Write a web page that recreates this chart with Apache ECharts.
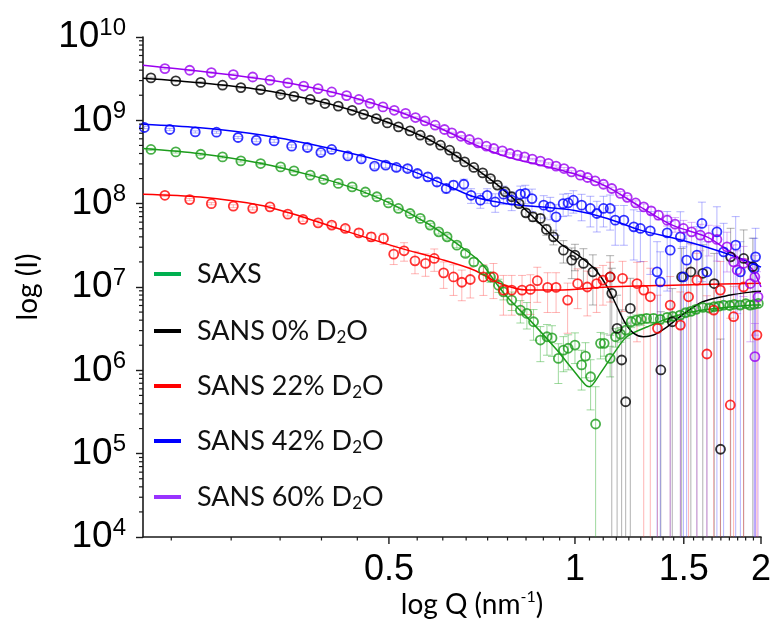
<!DOCTYPE html>
<html>
<head>
<meta charset="utf-8">
<script src="https://cdn.jsdelivr.net/npm/echarts@6/dist/echarts.min.js"></script>
<style>
html, body { margin: 0; padding: 0; background: #fff; }
#chart { width: 772px; height: 637px; }
</style>
</head>
<body>
<div id="chart"></div>
<script>
// Scattering curves, log I vs log Q.
// Measured points: [Q (nm^-1), I, relative error]; fits: [Q, I].

const saxsPoints = [
  [0.206,4.47e8,0.03],[0.226,4.18e8,0.03],[0.248,3.92e8,0.03],[0.269,3.64e8,0.03],[0.288,3.26e8,0.03],
  [0.310,3.03e8,0.03],[0.334,2.76e8,0.03],[0.351,2.47e8,0.03],[0.373,2.20e8,0.03],[0.392,1.95e8,0.03],
  [0.414,1.75e8,0.03],[0.436,1.59e8,0.03],[0.458,1.38e8,0.04],[0.478,1.21e8,0.04],[0.499,1.02e8,0.04],
  [0.518,8.76e7,0.04],[0.541,7.62e7,0.05],[0.562,6.65e7,0.05],[0.583,5.53e7,0.05],[0.602,4.59e7,0.06],
  [0.621,4.00e7,0.06],[0.644,3.18e7,0.07],[0.665,2.53e7,0.08],[0.686,2.00e7,0.1],[0.711,1.60e7,0.12],
  [0.730,1.32e7,0.14],[0.752,1.05e7,0.18],[0.766,8.75e6,0.2],[0.790,6.96e6,0.25],[0.816,5.28e6,0.3],
  [0.836,4.82e6,0.35],[0.857,3.83e6,0.4],[0.879,2.31e6,0.45],[0.901,2.53e6,0.4],[0.918,2.45e6,0.4],
  [0.940,1.39e6,0.5],[0.958,1.75e6,0.45],[0.975,1.84e6,0.45],[1.0,2.01e6,0.4],[1.025,1.16e6,0.5],
  [1.04,1.48e6,0.45],[1.06,8.38e5,0.6],[1.08,2.27e5,1.8],[1.10,2.11e6,0.35],[1.115,2.11e6,0.3],
  [1.14,1.39e6,0.4],[1.163,2.53e6,0.25],[1.185,2.72e6,0.2],[1.209,3.04e6,0.2],[1.233,3.83e6,0.15],
  [1.257,4.01e6,0.15],[1.28,4.09e6,0.15],[1.306,4.2e6,0.12],[1.34,4.2e6,0.12],[1.374,4.09e6,0.12],
  [1.41,4.32e6,0.12],[1.44,4.43e6,0.1],[1.48,4.6e6,0.1],[1.51,4.91e6,0.1],[1.54,5.1e6,0.1],
  [1.57,5.39e6,0.1],[1.61,5.7e6,0.1],[1.65,5.6e6,0.1],[1.68,5.8e6,0.1],[1.71,5.9e6,0.1],
  [1.74,6.07e6,0.1],[1.78,6.0e6,0.1],[1.81,6.2e6,0.1],[1.85,6.07e6,0.1],[1.89,6.3e6,0.1],
  [1.92,6.07e6,0.1],[1.95,6.2e6,0.1],[1.98,6.36e6,0.1]
];
const saxsFit = [
  [0.2,4.6e8],[0.2476,3.98e8],[0.3096,3.06e8],[0.373,2.2e8],[0.433,1.58e8],[0.5026,1.01e8],
  [0.5833,5.53e7],[0.6523,3.09e7],[0.7027,1.99e7],[0.752,1.02e7],[0.776,7.63e6],[0.855,3.66e6],
  [0.935,1.75e6],[0.994,1.0e6],[1.04,6.67e5],[1.055,6.36e5],[1.099,9.2e5],[1.156,1.6e6],
  [1.213,2.53e6],[1.31,3.33e6],[1.44,4.4e6],[1.61,5.28e6],[1.94,6.07e6],[2.0,6.1e6]
];

const sans0Points = [
  [0.206,3.23e9,0.02],[0.226,2.97e9,0.02],[0.248,2.85e9,0.02],[0.269,2.64e9,0.02],[0.288,2.47e9,0.02],
  [0.310,2.34e9,0.02],[0.334,2.04e9,0.02],[0.351,1.94e9,0.02],[0.373,1.78e9,0.02],[0.394,1.59e9,0.02],
  [0.414,1.48e9,0.02],[0.436,1.32e9,0.02],[0.455,1.18e9,0.02],[0.477,1.05e9,0.02],[0.497,9.31e8,0.02],
  [0.518,8.34e8,0.02],[0.541,7.46e8,0.02],[0.562,6.63e8,0.03],[0.583,5.77e8,0.03],[0.606,5.03e8,0.03],
  [0.627,4.38e8,0.03],[0.643,3.64e8,0.03],[0.663,3.17e8,0.03],[0.686,2.72e8,0.04],[0.709,2.34e8,0.04],
  [0.730,2.00e8,0.05],[0.749,1.67e8,0.05],[0.771,1.39e8,0.06],[0.790,1.21e8,0.07],[0.812,1.00e8,0.08],
  [0.833,7.76e7,0.1],[0.855,6.95e7,0.12],[0.879,6.65e7,0.12],[0.899,4.91e7,0.15],[0.923,4.00e7,0.2],
  [0.958,2.77e7,0.3],[0.988,2.10e7,0.4],[1.0,2.41e7,0.35],[1.032,1.92e7,0.5],[1.069,1.52e7,0.6],
  [1.14,1.32e7,0.8],[1.147,8.4e6,1.0],[1.17,3.19e6,1.5],[1.19,1.33e6,3],[1.208,4.2e5,8],
  [1.229,5.53e6,1.3],[1.377,1.01e6,4],[1.437,3.83e6,1.5],[1.488,1.32e7,1.2],[1.54,1.52e7,1.2],
  [1.61,1.46e7,1.2],[1.68,1.10e7,1.3],[1.72,1.13e5,20],[1.786,2.30e7,1.2],[1.875,2.20e7,1.2],
  [1.94,1.75e7,1.2]
];
const sans0Fit = [
  [0.2,3.2e9],[0.2476,2.82e9],[0.3096,2.33e9],[0.373,1.79e9],[0.433,1.34e9],[0.5026,9.23e8],
  [0.5833,5.77e8],[0.677,2.9e8],[0.757,1.58e8],[0.8467,7.48e7],[0.9467,3.33e7],[1.02,2.3e7],
  [1.08,1.6e7],[1.128,1.0e7],[1.17,5.79e6],[1.207,3.66e6],[1.245,2.78e6],[1.291,2.53e6],
  [1.34,2.65e6],[1.41,3.33e6],[1.49,4.6e6],[1.61,6.65e6],[1.784,8.0e6],[1.94,8.75e6],[2.0,8.9e6]
];

const sans22Points = [
  [0.217,1.26e8,0.03],[0.238,1.12e8,0.03],[0.258,1.00e8,0.03],[0.280,9.33e7,0.04],[0.301,8.76e7,0.04],
  [0.321,9.16e7,0.04],[0.343,7.48e7,0.05],[0.363,6.47e7,0.05],[0.384,5.89e7,0.06],[0.404,5.53e7,0.07],
  [0.425,5.04e7,0.08],[0.447,4.47e7,0.1],[0.468,4.00e7,0.12],[0.490,3.83e7,0.15],[0.509,2.48e7,0.25],
  [0.529,2.72e7,0.25],[0.551,2.06e7,0.3],[0.573,1.92e7,0.3],[0.592,2.20e7,0.3],[0.613,1.48e7,0.35],
  [0.636,1.32e7,0.4],[0.656,1.14e7,0.4],[0.677,1.23e7,0.4],[0.711,1.32e7,0.4],[0.738,1.32e7,0.45],
  [0.766,9.18e6,0.5],[0.790,9.18e6,0.5],[0.821,9.18e6,0.5],[0.847,9.35e6,0.5],[0.869,1.19e7,0.45],
  [0.903,9.89e6,0.5],[0.932,9.89e6,0.5],[0.973,6.96e6,0.6],[1.01,1.10e7,0.5],[1.047,1.0e7,0.55],
  [1.084,1.10e7,0.55],[1.11,1.21e7,0.5],[1.14,1.32e7,0.5],[1.194,1.27e7,0.6],[1.26,1.10e7,0.8],
  [1.292,9.18e6,1.2],[1.324,7.63e6,1.2],[1.36,3.19e6,1.5],[1.426,6.07e6,1.2],[1.481,3.49e6,1.5],
  [1.527,7.63e6,1.2],[1.575,1.21e7,1.1],[1.635,1.57e6,4],[1.677,5.28e6,1.3],[1.719,9.18e6,1.2],
  [1.784,3.84e5,10],[1.806,4.40e6,1.3],[1.874,1.0e7,1.2],[1.97,2.65e6,1.5]
];
const sans22Fit = [
  [0.2,1.3e8],[0.2476,1.2e8],[0.3096,9.59e7],[0.3594,7.08e7],[0.421,4.81e7],[0.5216,2.93e7],
  [0.6055,2.16e7],[0.686,1.6e7],[0.757,1.1e7],[0.836,9.18e6],[0.935,9.18e6],[1.128,1.0e7],
  [1.437,1.05e7],[2.0,1.11e7]
];

const sans42Points = [
  [0.201,8.2e8,0.03],[0.221,7.76e8,0.03],[0.243,7.26e8,0.03],[0.263,7.2e8,0.03],[0.285,6.22e8,0.03],
  [0.305,5.77e8,0.04],[0.326,5.66e8,0.04],[0.348,4.89e8,0.04],[0.369,4.72e8,0.05],[0.388,4.11e8,0.05],
  [0.404,4.47e8,0.05],[0.429,3.74e8,0.06],[0.451,3.44e8,0.06],[0.474,2.82e8,0.07],[0.494,2.90e8,0.07],
  [0.514,2.72e8,0.08],[0.536,2.64e8,0.08],[0.556,2.30e8,0.09],[0.578,2.10e8,0.1],[0.598,1.82e8,0.1],
  [0.619,1.52e8,0.12],[0.636,1.67e8,0.12],[0.661,1.71e8,0.15],[0.679,1.26e8,0.2],[0.703,1.10e8,0.2],
  [0.721,1.26e8,0.2],[0.743,1.05e8,0.25],[0.766,1.30e8,0.25],[0.790,1.10e8,0.25],[0.816,1.30e8,0.25],
  [0.831,1.33e8,0.25],[0.852,1.15e8,0.3],[0.890,9.59e7,0.3],[0.912,9.16e7,0.3],[0.932,6.95e7,0.4],
  [0.957,1.0e8,0.3],[0.975,1.02e8,0.3],[0.994,1.10e8,0.3],[1.025,9.59e7,0.35],[1.059,8.76e7,0.4],
  [1.085,7.62e7,0.4],[1.112,8.76e7,0.4],[1.14,8.76e7,0.45],[1.162,6.34e7,0.5],[1.2,6.34e7,0.5],
  [1.245,5.27e7,0.6],[1.276,5.04e7,0.6],[1.324,4.72e7,0.7],[1.358,1.52e7,1.3],[1.374,1.15e7,1.3],
  [1.41,4.47e7,0.8],[1.426,2.77e7,1.2],[1.481,4.0e7,1.0],[1.498,1.32e7,1.3],[1.516,2.10e7,1.2],
  [1.575,2.41e7,1.2],[1.605,5.79e7,0.8],[1.635,1.52e7,1.3],[1.697,4.59e7,1.0],[1.74,2.64e7,1.2],
  [1.82,3.18e7,1.2],[1.852,1.52e7,1.3],[1.95,1.67e7,1.3],[1.96,2.30e7,1.2]
];
const sans42Fit = [
  [0.2,8.98e8],[0.245,8.2e8],[0.313,6.63e8],[0.402,4.59e8],[0.514,2.9e8],[0.6284,1.59e8],
  [0.686,1.21e8],[0.776,1.0e8],[0.879,9.16e7],[0.994,8.36e7],[1.128,6.65e7],[1.276,4.81e7],
  [1.437,3.9e7],[1.635,3.0e7],[1.852,2.2e7],[2.0,1.73e7]
];

const sans60Points = [
  [0.217,4.18e9,0.02],[0.238,3.99e9,0.02],[0.258,3.74e9,0.02],[0.280,3.54e9,0.02],[0.301,3.31e9,0.02],
  [0.321,3.03e9,0.02],[0.343,2.81e9,0.02],[0.364,2.58e9,0.02],[0.384,2.40e9,0.02],[0.404,2.19e9,0.02],
  [0.427,1.98e9,0.02],[0.447,1.78e9,0.02],[0.466,1.60e9,0.02],[0.489,1.45e9,0.02],[0.510,1.32e9,0.02],
  [0.532,1.21e9,0.02],[0.552,1.08e9,0.02],[0.572,9.85e8,0.02],[0.594,8.74e8,0.02],[0.615,7.76e8,0.02],
  [0.632,7.06e8,0.02],[0.654,6.44e8,0.02],[0.675,5.89e8,0.02],[0.697,5.36e8,0.02],[0.719,4.89e8,0.02],
  [0.739,4.59e8,0.02],[0.763,4.30e8,0.02],[0.785,4.0e8,0.02],[0.807,3.82e8,0.02],[0.829,3.64e8,0.02],
  [0.853,3.42e8,0.02],[0.879,3.24e8,0.02],[0.906,3.04e8,0.02],[0.932,2.82e8,0.03],[0.96,2.64e8,0.03],
  [0.987,2.41e8,0.03],[1.02,2.20e8,0.03],[1.048,2.06e8,0.03],[1.078,1.88e8,0.03],[1.112,1.71e8,0.04],
  [1.147,1.52e8,0.04],[1.184,1.33e8,0.05],[1.215,1.19e8,0.05],[1.254,1.02e8,0.06],[1.292,9.16e7,0.08],
  [1.328,8.2e7,0.1],[1.365,7.28e7,0.12],[1.41,6.34e7,0.15],[1.452,5.68e7,0.2],[1.498,5.04e7,0.25],
  [1.544,4.59e7,0.3],[1.595,4.19e7,0.35],[1.646,3.93e7,0.4],[1.697,3.72e7,0.45],[1.762,3.03e7,0.5],
  [1.806,2.0e7,0.6],[1.83,1.60e7,0.7],[1.874,1.92e7,0.6],[1.922,1.10e7,0.8],[1.955,1.32e7,0.8],
  [1.978,7.63e6,1.0],[1.955,1.46e6,1.5]
];
const sans60Fit = [
  [0.2,4.58e9],[0.2476,3.88e9],[0.3096,3.15e9],[0.3594,2.64e9],[0.433,1.92e9],[0.5216,1.25e9],
  [0.615,7.61e8],[0.686,5.17e8],[0.776,3.64e8],[0.879,2.9e8],[0.994,2.3e8],[1.128,1.59e8],
  [1.276,9.16e7],[1.437,5.53e7],[1.635,4.0e7],[1.735,3.03e7],[1.88,1.99e7],[1.94,1.6e7],[2.0,1.0e7]
];

const seriesNames = ['SAXS', 'SANS 0% D2O', 'SANS 22% D2O', 'SANS 42% D2O', 'SANS 60% D2O'];
const pointSets = [saxsPoints, sans0Points, sans22Points, sans42Points, sans60Points];
const fitSets = [saxsFit, sans0Fit, sans22Fit, sans42Fit, sans60Fit];

const xTickValues = [0.5, 1, 1.5, 2];
const xTickLabels = ['0.5', '1', '1.5', '2'];

const X_MIN = 0.2, X_MAX = 2, Y_MIN = 1e4, Y_MAX = 1e10;

const lineColors = ['#1c9c1c', '#000000', '#ff0000', '#0000ff', '#9a00f0'];
const legendColors = ['#00b050', '#000000', '#ff0000', '#0000ff', '#9933ff'];
const barColors = ['rgba(40,170,40,0.45)', 'rgba(70,70,70,0.42)', 'rgba(255,60,60,0.38)',
                   'rgba(60,60,255,0.38)', 'rgba(160,60,240,0.4)'];
const legendCenters = [274, 331, 386, 441, 497];

const AXIS_COLOR = '#1a1a1a';
const TICK_FONT = '"Liberation Sans", Arial, sans-serif';
const TITLE_FONT = 'Lato, "Open Sans", sans-serif';

// Minor ticks on the x axis: nine subdivisions per 0.5 step
const xMinorTicks = [];
for (let k = 1; k < 36; k++) {
  const v = k * 0.5 / 9;
  if (k % 9 !== 0 && v > X_MIN && v < X_MAX) xMinorTicks.push(v);
}
// Minor ticks on the y axis: 2..9 within each decade
const yMinorTicks = [];
for (let d = 4; d < 10; d++) {
  for (let m = 2; m <= 9; m++) yMinorTicks.push(m * Math.pow(10, d));
}

function errorBarRenderer(color) {
  return function (params, api) {
    const q = api.value(0), v = api.value(1), rel = api.value(2);
    const top = api.coord([q, v * (1 + rel)]);
    const bot = api.coord([q, rel >= 1 ? Y_MIN : v * (1 - rel)]);
    const w = 4;
    const children = [
      { type: 'line', shape: { x1: top[0], y1: top[1], x2: bot[0], y2: bot[1] }, style: { stroke: color, lineWidth: 1 } },
      { type: 'line', shape: { x1: top[0] - w, y1: top[1], x2: top[0] + w, y2: top[1] }, style: { stroke: color, lineWidth: 1 } }
    ];
    if (rel < 1) {
      children.push({ type: 'line', shape: { x1: bot[0] - w, y1: bot[1], x2: bot[0] + w, y2: bot[1] }, style: { stroke: color, lineWidth: 1 } });
    }
    return { type: 'group', children: children };
  };
}

const series = [];
pointSets.forEach(function (pts, i) {
  series.push({
    name: seriesNames[i] + ' error',
    type: 'custom',
    renderItem: errorBarRenderer(barColors[i]),
    data: pts,
    encode: { x: 0, y: 1 },
    clip: true,
    silent: true,
    z: 1
  });
});
fitSets.forEach(function (fit, i) {
  series.push({
    name: seriesNames[i],
    type: 'line',
    data: fit,
    showSymbol: false,
    smooth: 0.3,
    lineStyle: { color: lineColors[i], width: 1.5 },
    itemStyle: { color: lineColors[i] },
    silent: true,
    z: 2
  });
});
pointSets.forEach(function (pts, i) {
  series.push({
    name: seriesNames[i] + ' data',
    type: 'scatter',
    data: pts,
    encode: { x: 0, y: 1 },
    symbol: 'circle',
    symbolSize: 9,
    itemStyle: { color: 'rgba(255,255,255,0)', borderColor: lineColors[i], borderWidth: 1.8 },
    silent: true,
    z: 3
  });
});

// x axis ticks and labels at 0.5, 1, 1.5, 2
series.push({
  type: 'custom',
  data: xTickValues.map(function (v, i) { return [v, Y_MIN, i]; }),
  encode: { x: 0, y: 1 },
  clip: false,
  silent: true,
  z: 5,
  renderItem: function (params, api) {
    const p = api.coord([api.value(0), Y_MIN]);
    return {
      type: 'group',
      children: [
        { type: 'line', shape: { x1: p[0], y1: p[1], x2: p[0], y2: p[1] + 7 }, style: { stroke: AXIS_COLOR, lineWidth: 1.4 } },
        { type: 'text', x: p[0], y: p[1] + 15,
          style: { text: xTickLabels[api.value(2)], fill: '#000', fontSize: 36, fontFamily: TICK_FONT, align: 'center', verticalAlign: 'top' } }
      ]
    };
  }
});
series.push({
  type: 'custom',
  data: xMinorTicks.map(function (v) { return [v, Y_MIN]; }),
  encode: { x: 0, y: 1 },
  clip: false,
  silent: true,
  z: 5,
  renderItem: function (params, api) {
    const p = api.coord([api.value(0), Y_MIN]);
    return { type: 'line', shape: { x1: p[0], y1: p[1], x2: p[0], y2: p[1] + 3.5 }, style: { stroke: AXIS_COLOR, lineWidth: 1.2 } };
  }
});
series.push({
  type: 'custom',
  data: yMinorTicks.map(function (v) { return [X_MIN, v]; }),
  encode: { x: 0, y: 1 },
  clip: false,
  silent: true,
  z: 5,
  renderItem: function (params, api) {
    const p = api.coord([X_MIN, api.value(1)]);
    return { type: 'line', shape: { x1: p[0] - 4, y1: p[1], x2: p[0], y2: p[1] }, style: { stroke: AXIS_COLOR, lineWidth: 1.2 } };
  }
});

function legendText(name) {
  return name.replace('D2O', 'D{sub|2}O');
}

const legends = seriesNames.map(function (name, i) {
  return {
    data: [{ name: name, icon: 'rect', itemStyle: { color: legendColors[i] } }],
    left: 154,
    top: legendCenters[i] - 15,
    padding: 0,
    itemWidth: 27,
    itemHeight: 4,
    selectedMode: false,
    formatter: legendText,
    textStyle: {
      fontFamily: TITLE_FONT, fontSize: 27, color: '#111', lineHeight: 30,
      padding: [0, 0, 0, 11],
      rich: { sub: { fontFamily: TITLE_FONT, fontSize: 17, color: '#111', lineHeight: 15, verticalAlign: 'bottom' } }
    }
  };
});

const chart = echarts.init(document.getElementById('chart'), null, { renderer: 'canvas' });
chart.setOption({
  animation: false,
  backgroundColor: '#ffffff',
  grid: { left: 143, right: 11, top: 37, bottom: 100, containLabel: false },
  legend: legends,
  xAxis: {
    type: 'log',
    logBase: 10,
    min: X_MIN,
    max: X_MAX,
    name: 'log Q (nm{sup|-1})',
    nameLocation: 'middle',
    nameGap: 52,
    nameTextStyle: {
      fontFamily: TITLE_FONT, fontSize: 28, color: '#000', lineHeight: 32,
      padding: [0, 0, 0, 40],
      rich: { sup: { fontFamily: TITLE_FONT, fontSize: 16, color: '#000', lineHeight: 14, verticalAlign: 'top' } }
    },
    axisLine: { show: true, lineStyle: { color: AXIS_COLOR, width: 1.6 } },
    axisTick: { show: false },
    axisLabel: { show: false },
    splitLine: { show: false }
  },
  yAxis: {
    type: 'log',
    logBase: 10,
    min: Y_MIN,
    max: Y_MAX,
    splitNumber: 6,
    name: 'log (I)',
    nameLocation: 'middle',
    nameGap: 101,
    nameRotate: 90,
    nameTextStyle: { fontFamily: TITLE_FONT, fontSize: 28, color: '#000' },
    axisLine: { show: true, lineStyle: { color: AXIS_COLOR, width: 1.6 } },
    axisTick: { show: true, inside: false, length: 7, lineStyle: { color: AXIS_COLOR, width: 1.4 } },
    minorTick: { show: false },
    splitLine: { show: false },
    axisLabel: {
      margin: 17,
      formatter: function (v) { return '{b|10}{s|' + Math.round(Math.log10(v)) + '}'; },
      rich: {
        b: { fontFamily: TICK_FONT, fontSize: 37, color: '#000', lineHeight: 42 },
        s: { fontFamily: TICK_FONT, fontSize: 24, color: '#000', lineHeight: 18, verticalAlign: 'top' }
      }
    }
  },
  series: series
});
</script>
</body>
</html>
